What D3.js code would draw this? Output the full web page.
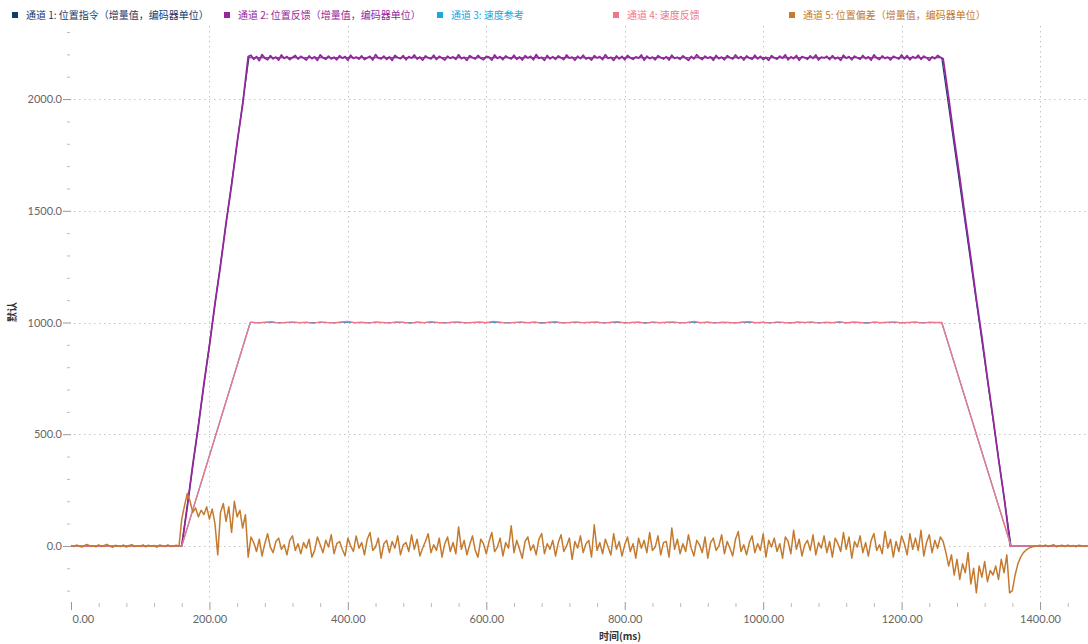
<!DOCTYPE html>
<html>
<head>
<meta charset="utf-8">
<script src="https://cdn.jsdelivr.net/npm/d3@7"></script>
<style>
  html, body { margin: 0; padding: 0; background: #fff; }
  svg { display: block; }
  .tick text { font-family: Lato, "Open Sans", sans-serif; font-size: 11px; fill: #666; }
</style>
</head>
<body>
<svg id="chart" width="1088" height="644"></svg>
<script>
// ---- series names and colours ----
const seriesNames = [
  "通道 1: 位置指令（增量值，编码器单位）",
  "通道 2: 位置反馈（增量值，编码器单位）",
  "通道 3: 速度参考",
  "通道 4: 速度反馈",
  "通道 5: 位置偏差（增量值，编码器单位）"
];
const seriesColors = ["#17386b", "#94279c", "#1aa6de", "#f0758a", "#c47a2e"];

// ---- axis ticks ----
const xMajorTicks = [0, 200, 400, 600, 800, 1000, 1200, 1400];
const yMajorTicks = [0, 500, 1000, 1500, 2000];

// ---- channel 1: position command (breakpoints, ms / counts) ----
const cmdTimes = [0, 160, 257, 1258, 1358, 1470];
const cmdValues = [0, 0, 2185, 2185, 0, 0];

// ---- channel 3: speed reference ----
const speedRefTimes = [0, 160, 259, 1258, 1358, 1470];
const speedRefValues = [0, 0, 1000, 1000, 0, 0];

// ---- channel 2: position feedback ----
const fbRiseTimes = [0, 160, 168, 176, 184, 192, 200, 208, 216, 224, 232, 240, 248, 256];
const fbRiseValues = [0, 0, 175, 365, 535, 725, 895, 1085, 1255, 1445, 1615, 1805, 1975, 2190];
const fbPlateauStart = 260, fbPlateauStep = 4;
const fbPlateau = [
  2196, 2178, 2190, 2172, 2199, 2183, 2176, 2194, 2180, 2188,
  2174, 2197, 2182, 2190, 2177, 2186, 2195, 2179, 2191, 2184,
  2175, 2193, 2181, 2189, 2173, 2198, 2185, 2178, 2192, 2180,
  2187, 2176, 2194, 2183, 2190, 2174, 2196, 2182, 2188, 2179,
  2193, 2177, 2185, 2191, 2175, 2199, 2184, 2180, 2192, 2178,
  2189, 2173, 2195, 2186, 2181, 2194, 2176, 2190, 2183, 2197,
  2179, 2188, 2174, 2193, 2185, 2180, 2196, 2177, 2191, 2184,
  2175, 2192, 2182, 2189, 2178, 2198, 2181, 2187, 2173, 2194,
  2186, 2179, 2195, 2183, 2176, 2191, 2188, 2174, 2197, 2182,
  2190, 2177, 2193, 2185, 2180, 2196, 2178, 2189, 2175, 2194,
  2184, 2191, 2176, 2199, 2182, 2187, 2173, 2195, 2180, 2190,
  2178, 2193, 2185, 2177, 2197, 2183, 2188, 2174, 2192, 2181,
  2196, 2179, 2186, 2175, 2194, 2184, 2190, 2177, 2198, 2182,
  2187, 2173, 2193, 2180, 2191, 2176, 2195, 2185, 2178, 2189,
  2183, 2197, 2174, 2192, 2181, 2188, 2176, 2194, 2186, 2179,
  2190, 2175, 2196, 2182, 2187, 2178, 2193, 2184, 2173, 2191,
  2180, 2198, 2185, 2177, 2192, 2183, 2189, 2174, 2195, 2181,
  2188, 2176, 2194, 2186, 2179, 2197, 2182, 2190, 2175, 2193,
  2184, 2178, 2196, 2180, 2191, 2177, 2187, 2173, 2194, 2185,
  2179, 2192, 2183, 2198, 2176, 2189, 2181, 2195, 2174, 2190,
  2186, 2178, 2193, 2182, 2197, 2175, 2188, 2184, 2191, 2177,
  2194, 2180, 2187, 2173, 2196, 2183, 2190, 2176, 2192, 2185,
  2178, 2195, 2181, 2189, 2174, 2198, 2184, 2177, 2193, 2182,
  2188, 2175, 2191, 2186, 2179, 2197, 2180, 2194, 2176, 2190,
  2183, 2196, 2178, 2192, 2185, 2173, 2189, 2181, 2195, 2187
];
const fbFallTimes = [1260, 1268, 1276, 1284, 1292, 1300, 1308, 1316, 1324, 1332, 1340, 1348, 1357, 1470];
const fbFallValues = [2180, 2005, 1820, 1650, 1465, 1290, 1105, 935, 750, 575, 390, 220, 0, 0];

// ---- channel 4: speed feedback ----
const spdRiseTimes = [0, 160, 259];
const spdRiseValues = [0, 0, 1000];
const spdPlateauStart = 260, spdPlateauStep = 10;
const spdPlateau = [
  1002, 998, 1001, 1004, 997, 1000, 1003, 999, 1001, 996,
  1003, 1000, 998, 1002, 1005, 999, 1001, 997, 1002, 1000,
  998, 1003, 1001, 996, 1002, 999, 1004, 1000, 997, 1001,
  1003, 998, 1000, 1002, 999, 1005, 1001, 997, 1000, 1003,
  999, 1002, 996, 1001, 1004, 998, 1000, 1003, 999, 1001,
  1002, 997, 1001, 1004, 998, 1000, 1002, 996, 1003, 999,
  1001, 1003, 998, 1000, 1005, 999, 1002, 997, 1001, 1000,
  998, 1002, 1004, 999, 1001, 997, 1003, 1000, 998, 1002,
  1000, 1003, 997, 1001, 999, 1004, 998, 1002, 1000, 996,
  1002, 999, 1001, 1003, 998, 1000, 1002, 997, 1001, 1000
];
const spdFallTimes = [1258, 1358, 1470];
const spdFallValues = [1000, 0, 0];

// ---- channel 5: position error, sampled every 4 ms from 0 ms ----
const errStep = 4;
const errValues = [
  // 0 - 156 ms: idle
  2, -3, 4, -1, -5, 3, 6, -2, 1, -4, 5, -3, 2, 7, -1, -6, 3, 0, -2, 4,
  -5, 2, 6, -3, 1, -2, 5, -4, 3, -1, 2, -6, 4, 1, -3, 5, -2, 0, 3, -1,
  // 160 - 256 ms: acceleration
  120, 180, 235, 200, 150, 170, 130, 160, 140, 175, 120, 165, 100, -40, 150,
  190, 110, 175, 60, 200, 130, 160, 80, 140, -50,
  // 260 - 1256 ms: constant speed
  40, 15, -25, 30, -45, 10, 55, -5, -30, 20,
  35, -15, 5, -40, 25, 45, -20, 10, -35, 15,
  -10, 30, -50, -20, 40, 5, -30, 25, -5, 50,
  -35, 10, 20, -15, -45, 35, 0, -25, 45, -10,
  15, -40, 30, 60, -20, -5, 35, -55, 10, 25,
  -30, 20, -10, 45, -40, 5, 15, -25, 50, -15,
  30, -45, -10, 20, 55, -30, 5, -20, 35, -50,
  10, 40, -25, 15, -35, 85, -15, 25, -40, 5,
  45, -20, -50, 30, 10, -35, 20, 60, -25, -5,
  35, -45, 15, -10, 90, -30, 25, -15, -55, 20,
  40, -20, 5, -40, 30, 55, -35, 10, -15, 25,
  -45, 15, 50, -25, 0, 35, -60, 20, -10, 45,
  -30, 10, 25, -50, 95, -20, 15, -35, 30, -5,
  -40, 55, -15, 20, -45, 5, 40, -25, 10, -55,
  35, -10, 25, -30, 60, -20, -5, 45, -40, 15,
  20, -50, 80, -15, 30, -35, 10, -25, 50, -10,
  -45, 25, 5, -30, 40, -55, 15, 35, -20, 0,
  50, -35, 20, -10, -45, 30, 65, -25, 5, -40,
  15, 45, -30, 10, -20, 55, -50, 25, -5, 35,
  -25, 10, -55, 40, 20, -35, 70, -15, 30, -45,
  5, 25, -20, 50, -40, 15, -10, 45, -30, 20,
  -50, 35, 10, -25, 60, -15, 40, -55, 20, -5,
  45, -30, 15, -45, 25, 55, -20, 5, -35, 65,
  -10, 30, -50, 20, -25, 45, 10, -40, 55, -15,
  35, -20, 70, -45, 15, 50, -30, 25, -10, 40,
  // 1260 - 1356 ms: deceleration
  20, -30, -90, -40, -130, -60, -150, -80, -120, -30, -170, -100, -210,
  -90, -140, -70, -160, -110, -130, -90, -150, -60, -120, -40, -210,
  // 1360 - 1468 ms: settling
  -200, -130, -80, -50, -30, -18, -10, -5, -2, 0, 3, -2, 4, -3,
  2, 5, -4, 1, 3, -3, 4, -2, 2, -4, 3, 1, -2, 2
];

// ---- assemble point lists ----
const zip = (ts, vs) => ts.map((t, i) => [t, vs[i]]);
const ch1 = zip(cmdTimes, cmdValues);
const ch2 = zip(fbRiseTimes, fbRiseValues)
  .concat(fbPlateau.map((v, i) => [fbPlateauStart + i * fbPlateauStep, v]))
  .concat(zip(fbFallTimes, fbFallValues));
const ch3 = zip(speedRefTimes, speedRefValues);
const ch4 = zip(spdRiseTimes, spdRiseValues)
  .concat(spdPlateau.map((v, i) => [spdPlateauStart + i * spdPlateauStep, v]))
  .concat(zip(spdFallTimes, spdFallValues));
const ch5 = errValues.map((v, i) => [i * errStep, v]);

// ---- layout ----
const svg = d3.select("#chart");
const plotLeft = 71, plotRight = 1088, plotTop = 26, plotBottom = 598;

const x = d3.scaleLinear().domain([0, 1470]).range([plotLeft, 1088.5]);
const y = d3.scaleLinear().domain([-233, 2327]).range([plotBottom, plotTop]);

// grid
const grid = svg.append("g").attr("stroke", "#c4c4c4").attr("stroke-width", 1)
  .attr("stroke-dasharray", "1.5,3.5");
grid.selectAll("line.h").data(yMajorTicks).join("line")
  .attr("x1", plotLeft + 3).attr("x2", plotRight)
  .attr("y1", d => Math.round(y(d)) + 0.5).attr("y2", d => Math.round(y(d)) + 0.5);
grid.selectAll("line.v").data(xMajorTicks.filter(d => d > 0)).join("line")
  .attr("y1", plotTop).attr("y2", plotBottom)
  .attr("x1", d => Math.round(x(d)) + 0.5).attr("x2", d => Math.round(x(d)) + 0.5);

// y axis
const yMinor = d3.range(-200, 2301, 100).filter(d => d % 500 !== 0);
const yAxisG = svg.append("g").attr("transform", `translate(${plotLeft},0)`);
yAxisG.call(d3.axisLeft(y).tickValues(yMajorTicks).tickSize(8).tickPadding(1).tickFormat(d3.format(".1f")));
yAxisG.select(".domain").remove();
yAxisG.selectAll(".tick line").attr("stroke", "#999");
const yMinorG = svg.append("g").attr("transform", `translate(${plotLeft - 1},0)`);
yMinorG.call(d3.axisLeft(y).tickValues(yMinor).tickSize(3).tickFormat(""));
yMinorG.select(".domain").remove();
yMinorG.selectAll(".tick line").attr("stroke", "#bbb");

// x axis
const xMinor = d3.range(0, 1470, 40).filter(d => d % 200 !== 0);
const xAxisG = svg.append("g").attr("transform", "translate(0,602)");
xAxisG.call(d3.axisBottom(x).tickValues(xMajorTicks).tickSize(8).tickPadding(5).tickFormat(d3.format(".2f")));
xAxisG.select(".domain").remove();
xAxisG.selectAll(".tick line").attr("stroke", "#999");
xAxisG.selectAll(".tick text").filter(d => d === 0).attr("text-anchor", "start").attr("dx", "1");
const xMinorG = svg.append("g").attr("transform", "translate(0,603)");
xMinorG.call(d3.axisBottom(x).tickValues(xMinor).tickSize(4).tickFormat(""));
xMinorG.select(".domain").remove();
xMinorG.selectAll(".tick line").attr("stroke", "#bbb");

// axis titles
svg.append("text").attr("x", 620).attr("y", 640).attr("text-anchor", "middle")
  .attr("font-family", "'Noto Sans CJK SC', sans-serif").attr("font-size", 10)
  .attr("font-weight", "bold").attr("fill", "#333").text("时间(ms)");
svg.append("text").attr("transform", "translate(16,312) rotate(-90)").attr("text-anchor", "middle")
  .attr("font-family", "'Noto Sans CJK SC', sans-serif").attr("font-size", 10)
  .attr("font-weight", "bold").attr("fill", "#333").text("默认");

// series lines
svg.append("clipPath").attr("id", "plotClip").append("rect")
  .attr("x", plotLeft).attr("y", plotTop - 10).attr("width", plotRight - plotLeft).attr("height", plotBottom - plotTop + 10);
const line = d3.line().x(d => x(d[0])).y(d => y(d[1]));
const series = [ch1, ch2, ch3, ch4, ch5];
const widths = [1.2, 1.8, 1.2, 1.4, 1.5];
const plot = svg.append("g").attr("clip-path", "url(#plotClip)");
series.forEach((s, i) => {
  plot.append("path").datum(s).attr("d", line)
    .attr("fill", "none").attr("stroke", seriesColors[i])
    .attr("stroke-width", widths[i]).attr("stroke-linejoin", "round");
});

// legend
const legendX = [12, 224, 437, 613, 789];
const legend = svg.append("g");
seriesNames.forEach((name, i) => {
  const g = legend.append("g").attr("transform", `translate(${legendX[i]},0)`);
  g.append("rect").attr("x", 0).attr("y", 12).attr("width", 6).attr("height", 6).attr("fill", seriesColors[i]);
  g.append("text").attr("x", 14).attr("y", 19)
    .attr("font-family", "'Noto Sans CJK SC', sans-serif").attr("font-size", 10)
    .attr("fill", seriesColors[i]).text(name);
});
</script>
</body>
</html>
